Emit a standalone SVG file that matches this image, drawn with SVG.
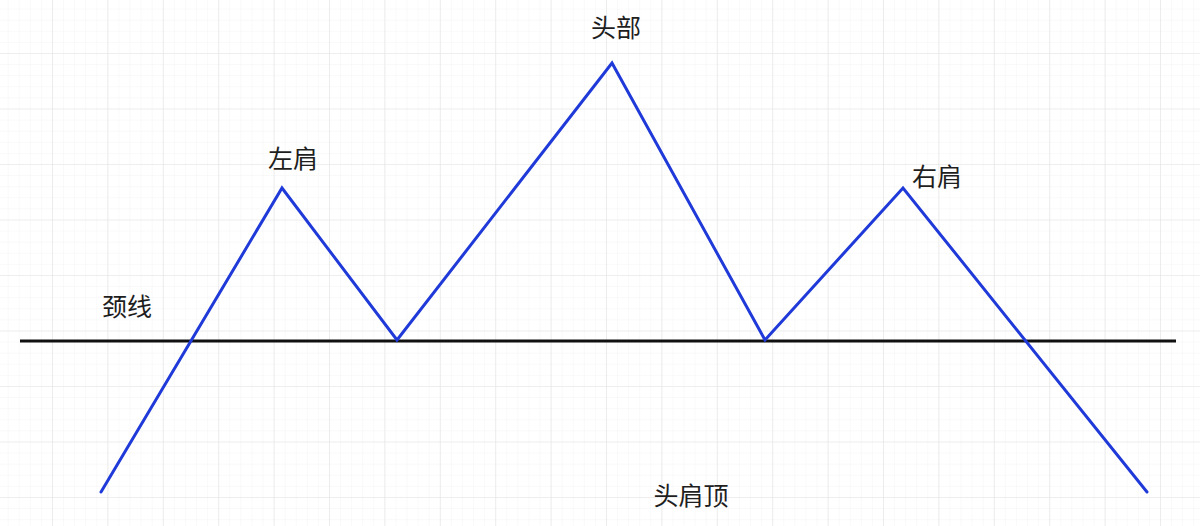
<svg xmlns="http://www.w3.org/2000/svg" width="1200" height="526" viewBox="0 0 1200 526">
  <defs>
    <pattern id="minor" x="-3.4" y="-2.5" width="11.08" height="11.1" patternUnits="userSpaceOnUse">
      <path d="M0 0H11.08M0 0V11.1" fill="none" stroke="#f4f4f4" stroke-width="1"/>
    </pattern>
    <pattern id="major" x="-3.4" y="-2.5" width="55.4" height="55.5" patternUnits="userSpaceOnUse">
      <path d="M0 0H55.4M0 0V55.5" fill="none" stroke="#e3e3e3" stroke-width="1.2"/>
    </pattern>
  </defs>
  <style>
    .lbl { font-family: "Noto Sans CJK SC", "Noto Sans", sans-serif; font-size: 25px; fill: #1e1e1e; text-anchor: middle; }
    .price { fill: none; stroke: #1f3ad8; stroke-width: 3; stroke-linejoin: miter; stroke-linecap: round; }
    .neck { fill: none; stroke: #111; stroke-width: 3; }
  </style>
  <rect width="1200" height="526" fill="#ffffff"/>
  <rect width="1200" height="526" fill="url(#minor)"/>
  <rect width="1200" height="526" fill="url(#major)"/>
  <g id="connectors">
    <line id="neckline" class="neck" x1="20" y1="341" x2="1176" y2="341"/>
    <polyline id="price-path" class="price" points="101,492 282,188 397,340 612,63 765,340 903,188 1147,492"/>
  </g>
  <g id="label-head"><text class="lbl" x="616" y="37">头部</text></g>
  <g id="label-left-shoulder"><text class="lbl" x="293" y="168">左肩</text></g>
  <g id="label-right-shoulder"><text class="lbl" x="937" y="186">右肩</text></g>
  <g id="label-neckline"><text class="lbl" x="127" y="316">颈线</text></g>
  <g id="label-title"><text class="lbl" x="691" y="505">头肩顶</text></g>
</svg>
